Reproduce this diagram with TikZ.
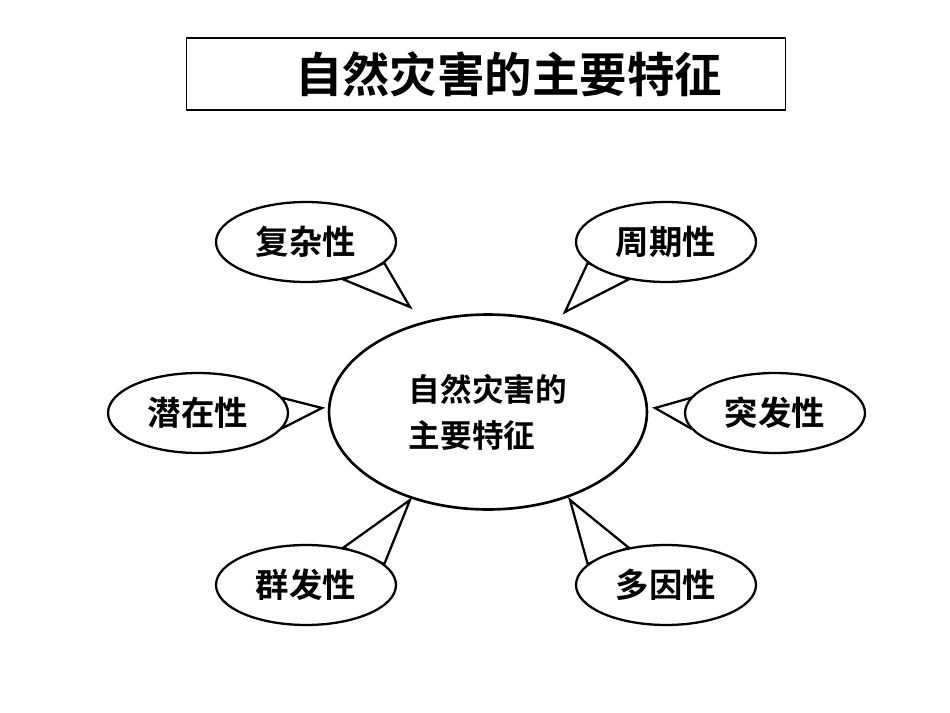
\documentclass[tikz,border=0pt]{standalone}
\usepackage{fontspec}
\newfontfamily\cjk{Noto Sans CJK SC}[BoldFont={Noto Sans CJK SC Bold}]
\usetikzlibrary{shapes.geometric}
\begin{document}
\begin{tikzpicture}[x=0.02cm,y=-0.02cm,
  bub/.style={ellipse,draw,line width=1.3pt,fill=white,minimum width=180\pgflinewidth*0+3.6cm,minimum height=1.6cm,font=\cjk\bfseries\fontsize{19}{22}\selectfont,inner sep=0pt},
  tail/.style={draw,line width=1.3pt,fill=white,line join=miter}]
\useasboundingbox (0,0) rectangle (950,713);
\node[draw,line width=0.6pt,minimum width=12cm,minimum height=1.44cm,font=\cjk\bfseries\fontsize{27}{30}\selectfont] (title) at (486,74) {\hspace*{0.9cm}自然灾害的主要特征};
\node[ellipse,draw,line width=1.5pt,minimum width=6.36cm,minimum height=3.9cm,font=\cjk\bfseries\fontsize{18}{26}\selectfont,align=left] (c) at (488,412) {自然灾害的\\主要特征};
% tail tips
\coordinate (t1) at (410,307);
\coordinate (t2) at (565,312);
\coordinate (t3) at (322,408);
\coordinate (t4) at (655,408);
\coordinate (t5) at (410,500);
\coordinate (t6) at (570,500);
% bubble positions (nodes drawn after tails)
\path node[bub,draw=none,fill=none] (a1) at (306,242) {}
      node[bub,draw=none,fill=none] (a2) at (666,242) {}
      node[bub,draw=none,fill=none] (a3) at (198,413) {}
      node[bub,draw=none,fill=none] (a4) at (775,413) {}
      node[bub,draw=none,fill=none] (a5) at (306,585) {}
      node[bub,draw=none,fill=none] (a6) at (666,585) {};
\draw[tail] (a1.-15) -- (t1) -- (a1.-45) -- cycle;
\draw[tail] (a2.-135) -- (t2) -- (a2.-165) -- cycle;
\draw[tail] (a3.10) -- (t3) -- (a3.-10) -- cycle;
\draw[tail] (a4.170) -- (t4) -- (a4.190) -- cycle;
\draw[tail] (a5.45) -- (t5) -- (a5.15) -- cycle;
\draw[tail] (a6.165) -- (t6) -- (a6.135) -- cycle;
\node[bub] (b1) at (306,242) {复杂性};
\node[bub] (b2) at (666,242) {周期性};
\node[bub] (b3) at (198,413) {潜在性};
\node[bub] (b4) at (775,413) {突发性};
\node[bub] (b5) at (306,585) {群发性};
\node[bub] (b6) at (666,585) {多因性};
\end{tikzpicture}
\end{document}
